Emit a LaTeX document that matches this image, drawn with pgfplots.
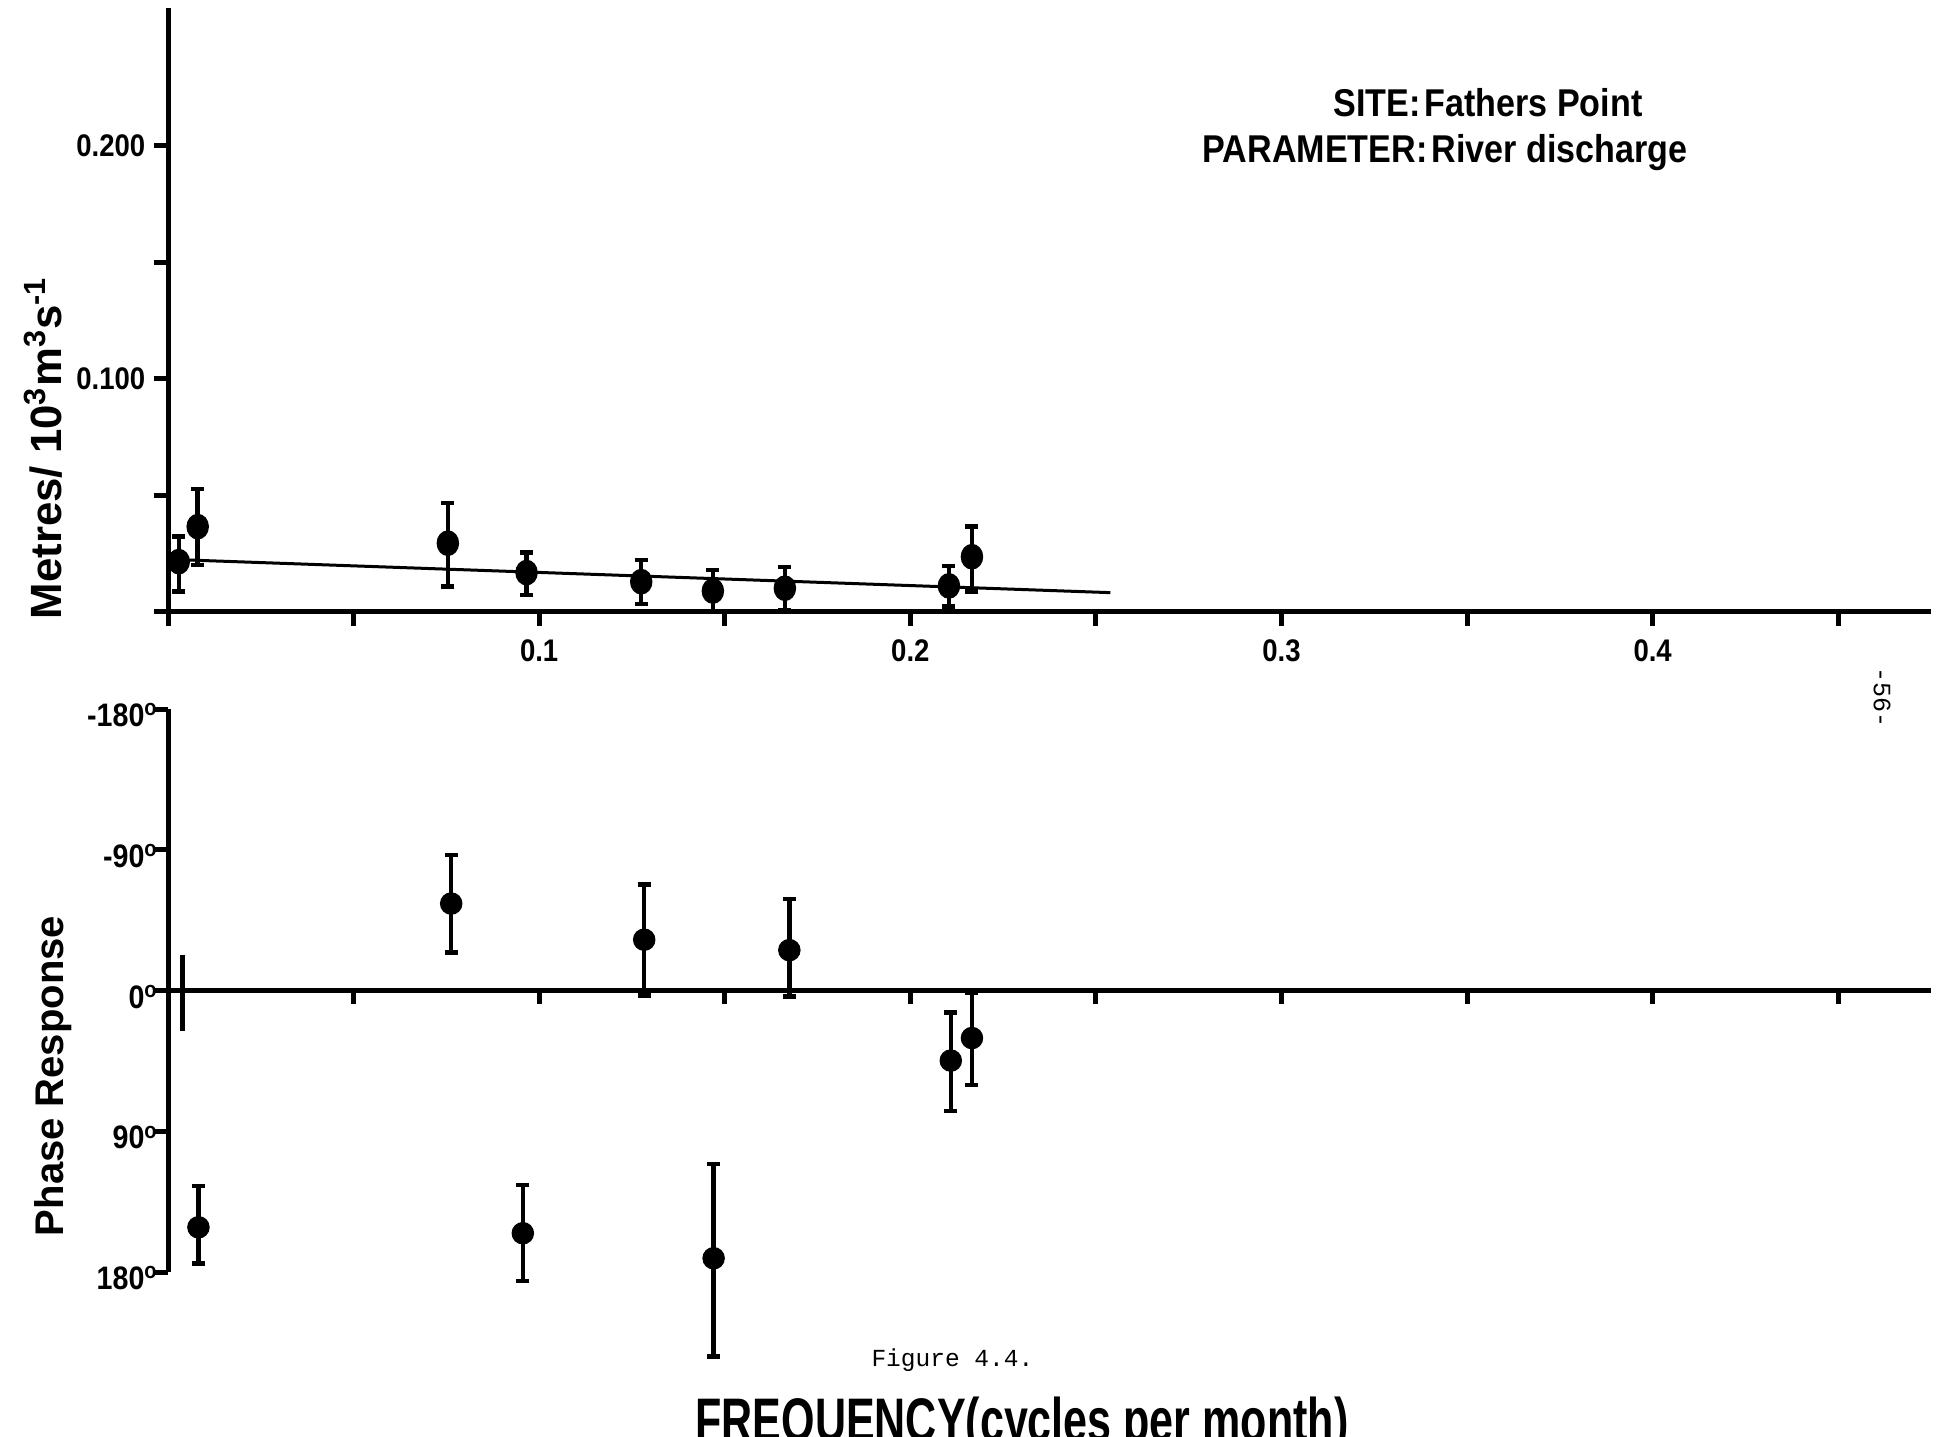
\documentclass[border=0pt]{standalone}
\usepackage{fontspec}
\setmainfont{Liberation Sans}
\newfontfamily\cond[FakeStretch=0.70]{Liberation Sans}
\newfontfamily\narrow[FakeStretch=0.88]{Liberation Sans}
\newfontfamily\mono{Liberation Mono}
\usepackage{pgfplots}
\pgfplotsset{compat=1.18}
\usepackage{pgfplotstable}

\pgfplotstableread{
f y ep em
0.0029 0.0216 0.0107 0.0129
0.0080 0.0366 0.0161 0.0164
0.0754 0.0295 0.0172 0.0186
0.0966 0.0169 0.0086 0.0096
0.1275 0.0130 0.0093 0.0096
0.1468 0.0090 0.0090 0.0090
0.1662 0.0102 0.0090 0.0093
0.2104 0.0112 0.0085 0.0089
0.2166 0.0237 0.0129 0.0150
}\ampdata

\pgfplotstableread{
f y ep em
0.0082 151.4 23.0 26.4
0.0763 -55.6 31.4 31.1
0.0956 155.2 30.5 30.8
0.1283 -32.5 35.6 35.3
0.1470 171.2 62.9 60.3
0.1674 -25.8 29.6 32.7
0.2109 44.8 32.1 30.7
0.2166 30.4 30.1 28.9
}\phasedata

\def\u{0.4pt}

\begin{document}
\begin{tikzpicture}
\path[use as bounding box] (0,0) rectangle (1945*\u,-1437*\u);

% ---------- amplitude panel ----------
\begin{axis}[
  at={(168*\u,-612*\u)}, anchor=south west,
  scale only axis, width=705.2pt, height=241.6pt,
  xmin=0, xmax=0.475, ymin=0, ymax=0.259,
  axis lines=left, axis line style={-, line width=2pt},
  clip=false,
  xtick={0,0.05,0.1,0.15,0.2,0.25,0.3,0.35,0.4,0.45},
  xticklabels={{},{},0.1,{},0.2,{},0.3,{},0.4,{}},
  ytick={0,0.05,0.1,0.15,0.2},
  yticklabels={{},{},0.100,{},0.200},
  tick align=outside, major tick length=5.6pt,
  tick style={line width=2pt, black},
  ticklabel style={font=\narrow\bfseries\fontsize{12.5}{14}\selectfont},
  xticklabel style={yshift=-2pt},
]
\addplot[line width=1.2pt, black] coordinates {(0,0.0226) (0.2539,0.0083)};
\addplot[only marks, mark=*, mark size=4.3pt, mark options={yscale=1.15}, black,
  error bars/.cd, y dir=both, y explicit,
  error bar style={line width=1.8pt, black},
  error mark options={rotate=90, yscale=1, line width=1.8pt, mark size=2.6pt, black}]
  table[x=f, y=y, y error plus=ep, y error minus=em] {\ampdata};
\end{axis}

% ---------- phase panel ----------
\begin{axis}[
  at={(168*\u,-709*\u)}, anchor=north west,
  scale only axis, width=705.2pt, height=225.2pt,
  xmin=0, xmax=0.475, ymin=-180, ymax=180, y dir=reverse,
  axis x line=middle, axis y line=left,
  axis line style={-, line width=2pt},
  hide obscured x ticks=false, hide obscured y ticks=false,
  clip=false,
  xtick={0.05,0.1,0.15,0.2,0.25,0.3,0.35,0.4,0.45},
  xticklabels={{},{},{},{},{},{},{},{},{}},
  ytick={-180,-90,0,90,180},
  yticklabels={-180\textsuperscript{o},-90\textsuperscript{o},0\textsuperscript{o},90\textsuperscript{o},180\textsuperscript{o}},
  xtick align=inside, ytick align=outside,
  major tick length=5.5pt,
  tick style={line width=2pt, black},
  ticklabel style={font=\narrow\bfseries\fontsize{13}{14}\selectfont},
  yticklabel style={xshift=5pt, yshift=-2.5pt},
]
\addplot[line width=1.8pt, black] coordinates {(0.0039,-22.9) (0.0039,26.2)};
\addplot[only marks, mark=*, mark size=4.3pt, black,
  error bars/.cd, y dir=both, y explicit,
  error bar style={line width=1.8pt, black},
  error mark options={rotate=90, line width=1.8pt, mark size=2.6pt, black}]
  table[x=f, y=y, y error plus=ep, y error minus=em] {\phasedata};
\end{axis}

% ---------- texts ----------
\node[anchor=base, rotate=90, font=\bfseries\fontsize{17.5}{19}\selectfont]
  at (61*\u,-448*\u) {Metres/ 10\textsuperscript{3}m\textsuperscript{3}s\textsuperscript{-1}};
\node[anchor=base, rotate=90, font=\bfseries\fontsize{16}{18}\selectfont]
  at (63*\u,-1076*\u) {Phase Response};

\node[anchor=base east, inner sep=0pt, font=\narrow\bfseries\fontsize{15.5}{16}\selectfont] at (1421*\u,-117*\u) {SITE:};
\node[anchor=base west, inner sep=0pt, font=\narrow\bfseries\fontsize{15.5}{16}\selectfont] at (1424*\u,-117*\u) {Fathers Point};
\node[anchor=base east, inner sep=0pt, font=\narrow\bfseries\fontsize{15.5}{16}\selectfont] at (1428*\u,-163*\u) {PARAMETER:};
\node[anchor=base west, inner sep=0pt, font=\narrow\bfseries\fontsize{15.5}{16}\selectfont] at (1431*\u,-163*\u) {River discharge};

\node[anchor=base west, inner sep=0pt, font=\mono\fontsize{9.8}{11}\selectfont] at (871*\u,-1366*\u) {Figure 4.4.};
\node[anchor=base west, inner sep=0pt, font=\cond\bfseries\fontsize{24.6}{26}\selectfont] at (695*\u,-1441*\u) {FREQUENCY(cycles per month)};
\node[rotate=-90, font=\mono\fontsize{10}{12}\selectfont] at (1882*\u,-698*\u) {-56-};
\end{tikzpicture}
\end{document}
